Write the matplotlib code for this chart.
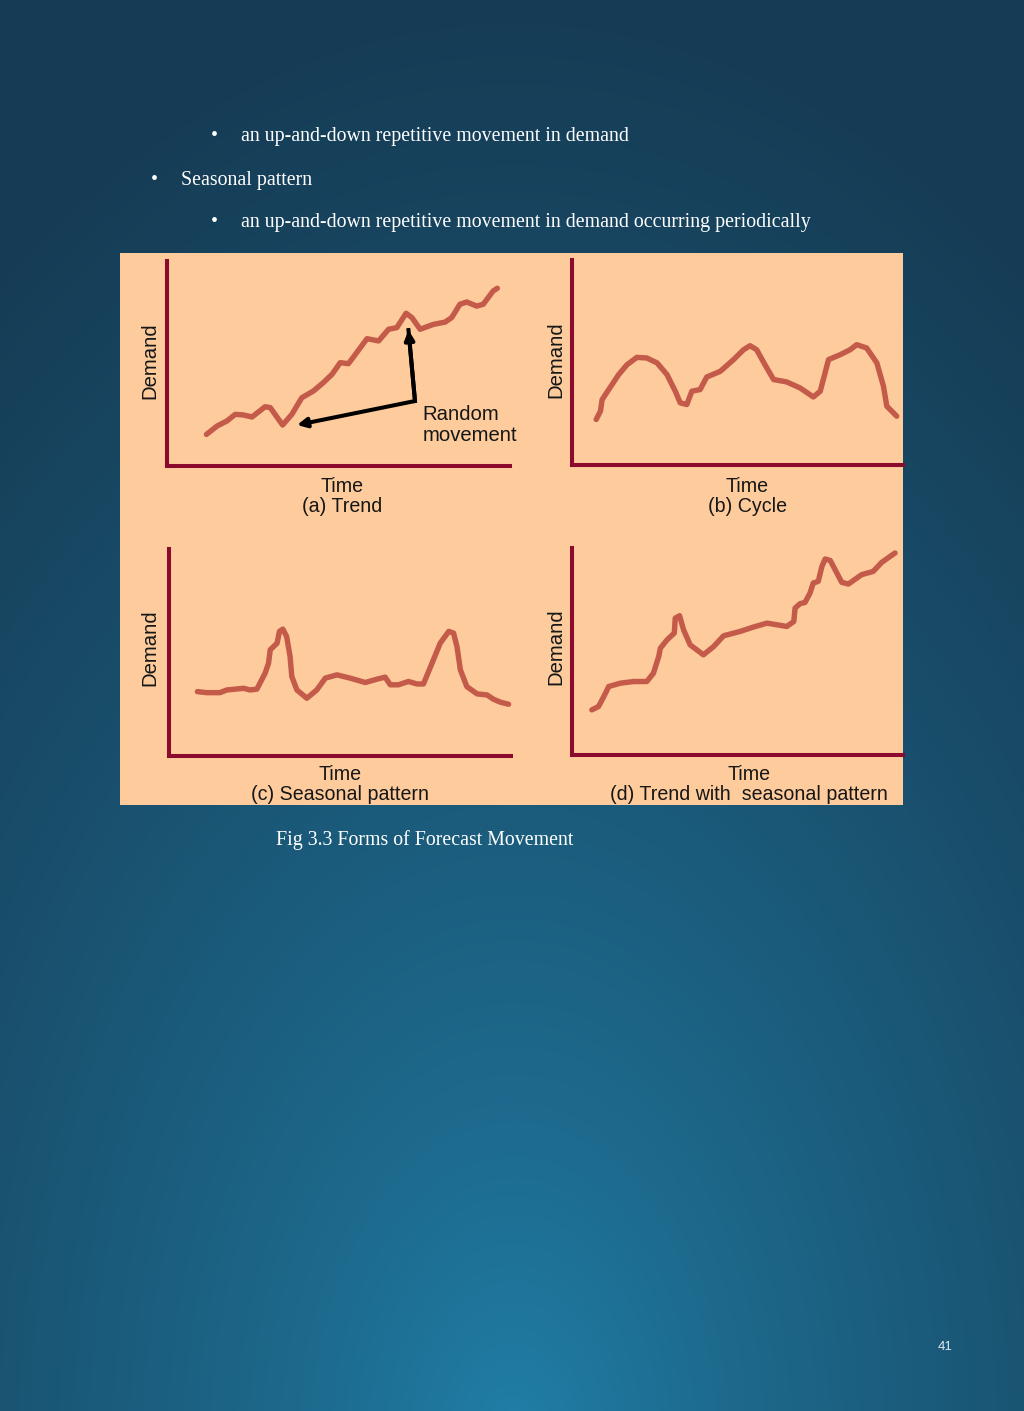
import numpy as np
import matplotlib
matplotlib.use("Agg")
from matplotlib import pyplot as plt

# curve points, (time, demand) on a 0-100 scale
trend_x = [11.5, 14.6, 17.5, 19.9, 22.3, 24.8, 28.6, 30.1, 33.7, 36.4, 39.3, 42.7, 45.6, 48.1,
           50.5, 52.9, 55.3, 58.3, 61.7, 64.6, 67.0, 69.7, 71.4, 73.8, 77.7, 81.1, 83.0, 85.4,
           87.4, 90.3, 92.2, 95.1, 96.3]
trend_y = [15.4, 19.5, 22.0, 25.2, 24.9, 23.9, 28.9, 28.5, 20.0, 25.2, 33.3, 36.6, 40.7, 44.7,
           50.4, 49.9, 55.3, 62.1, 61.0, 66.7, 67.5, 74.5, 72.4, 66.7, 69.1, 70.2, 72.4, 78.9,
           80.0, 78.0, 78.9, 85.4, 86.7]

cycle_x = [7.3, 8.6, 9.1, 11.1, 14.1, 16.6, 19.6, 22.6, 25.7, 28.7, 31.2, 32.7, 34.7, 36.2,
           38.7, 40.7, 44.8, 48.8, 51.8, 53.8, 55.8, 58.3, 60.9, 64.9, 68.9, 72.9, 75.0, 77.5,
           81.0, 84.0, 86.0, 89.0, 92.1, 94.1, 95.1, 98.1]
cycle_y = [22.2, 26.3, 31.9, 36.8, 44.1, 48.9, 52.5, 52.2, 49.8, 44.1, 36.0, 30.3, 29.5, 36.0,
           36.8, 42.9, 45.7, 51.4, 56.2, 58.2, 56.2, 48.9, 41.7, 40.5, 37.6, 33.2, 36.0, 51.4,
           53.8, 56.2, 58.7, 57.1, 49.8, 38.4, 28.7, 23.8]

season_x = [8.3, 11.0, 14.9, 16.9, 21.8, 23.7, 25.7, 28.1, 29.1, 29.6, 31.6, 32.3, 33.3, 34.4,
            35.4, 35.9, 37.4, 40.3, 43.2, 45.7, 49.1, 53.0, 57.4, 60.8, 63.2, 64.7, 67.1, 70.0,
            72.5, 74.4, 76.9, 79.3, 81.8, 83.2, 84.2, 85.2, 87.1, 90.1, 93.0, 94.9, 96.9, 99.3]
season_y = [31.1, 30.6, 30.6, 31.9, 32.7, 31.9, 32.3, 40.0, 44.8, 51.3, 54.5, 60.2, 61.3, 57.7,
            48.1, 38.4, 31.9, 27.9, 31.9, 37.6, 39.2, 37.6, 35.5, 37.1, 38.1, 34.4, 34.4, 36.0,
            34.8, 34.8, 44.8, 54.5, 60.2, 59.4, 52.9, 41.6, 33.5, 30.0, 29.5, 27.4, 26.0, 25.0]

tws_x = [6.0, 8.0, 9.6, 11.1, 14.6, 18.6, 22.6, 24.6, 26.2, 26.7, 28.7, 30.9, 31.2, 32.5, 33.7,
         35.7, 39.7, 42.8, 45.8, 50.8, 54.8, 58.9, 61.9, 64.9, 67.0, 67.4, 68.9, 70.4, 71.9,
         72.9, 74.4, 75.5, 76.5, 78.0, 79.5, 81.5, 83.5, 87.5, 91.0, 93.6, 97.6]
tws_y = [21.8, 23.4, 28.2, 33.1, 34.7, 35.5, 35.5, 39.5, 47.6, 51.6, 55.6, 58.9, 66.1, 67.3, 60.5,
         53.2, 48.4, 52.4, 57.6, 59.7, 61.8, 63.7, 62.9, 62.1, 64.5, 71.0, 73.1, 73.7, 78.2,
         83.1, 83.9, 91.1, 94.7, 94.0, 89.5, 83.4, 82.6, 87.1, 88.7, 93.1, 97.6]

# random movement arrow: left tip, corner, top tip
arrow_x = [37.9, 72.3, 70.4]
arrow_y = [20.0, 31.7, 66.3]

captions = ["(a) Trend", "(b) Cycle", "(c) Seasonal pattern", "(d) Trend with  seasonal pattern"]

W, H = 1024, 1411
fig = plt.figure(figsize=(W / 100, H / 100), dpi=100)

# page background: radial gradient, lighter at bottom centre
bg = fig.add_axes([0, 0, 1, 1])
bg.set_xlim(0, W)
bg.set_ylim(H, 0)
bg.axis("off")
yy, xx = np.mgrid[0:H:4, 0:W:4]
t = np.clip(np.sqrt(((xx - 512) / 900.0) ** 2 + ((yy - 1450) / 1450.0) ** 2), 0, 1) ** 0.75
c0 = np.array([0x21, 0x82, 0xAB]) / 255
c1 = np.array([0x16, 0x3C, 0x55]) / 255
img = c0 * (1 - t[..., None]) + c1 * t[..., None]
bg.imshow(img, extent=[0, W, H, 0], aspect="auto", interpolation="bilinear")

# peach figure panel
bg.add_patch(plt.Rectangle((120, 253), 783, 552, facecolor="#FDCB9C", edgecolor="none"))

serif = dict(family="Liberation Serif", color="white", fontsize=14.35, va="center")
bg.text(211, 137, "\u2022", **serif)
bg.text(241, 137, "an up-and-down repetitive movement in demand", **serif)
bg.text(151, 180, "\u2022", **serif)
bg.text(181, 180, "Seasonal pattern", **serif)
bg.text(211, 223, "\u2022", **serif)
bg.text(241, 223, "an up-and-down repetitive movement in demand occurring periodically", **serif)
bg.text(276, 840, "Fig 3.3 Forms of Forecast Movement", **serif)
bg.text(945, 1347, "41", family="Liberation Sans", color="#dce8ef", fontsize=9.5,
        ha="center", va="center")

sans = dict(family="Liberation Sans", color="#161616", fontsize=14.1, ha="center", va="center")

# (left, right, top, bottom) in pixels, label centres
panels = [
    ((167, 510, 261, 466), trend_x, trend_y, (342, 486, 507), (150, 361)),
    ((572, 903, 260, 465), cycle_x, cycle_y, (747, 486, 507), (556, 360)),
    ((169, 511, 549, 756), season_x, season_y, (340, 774, 795), (150, 648)),
    ((572, 903, 548, 755), tws_x, tws_y, (749, 774, 795), (556, 647)),
]

for i, (box, xs, ys, lab, dem) in enumerate(panels):
    l, r, tp, b = box
    ax = fig.add_axes([l / W, 1 - b / H, (r - l) / W, (b - tp) / H])
    ax.set_facecolor("none")
    ax.set_xlim(0, 100)
    ax.set_ylim(0, 100)
    ax.set_xticks([])
    ax.set_yticks([])
    for s in ["top", "right"]:
        ax.spines[s].set_visible(False)
    for s in ["left", "bottom"]:
        ax.spines[s].set_color("#8B0A2E")
        ax.spines[s].set_linewidth(2.9)
    ax.plot(xs, ys, color="#C45A4A", lw=3.9, solid_capstyle="round",
            solid_joinstyle="round", clip_on=False)

    bg.text(lab[0], lab[1], "Time", **sans)
    bg.text(lab[0], lab[2], captions[i], **sans)
    bg.text(dem[0], dem[1], "Demand", rotation=90, **dict(sans, fontsize=14.6))

    if i == 0:
        ax.plot(arrow_x[1:], arrow_y[1:], color="black", lw=2.9)
        ax.annotate("", xy=(arrow_x[0], arrow_y[0]), xytext=(arrow_x[1], arrow_y[1]),
                    arrowprops=dict(arrowstyle="-|>", color="black", lw=2.9,
                                    mutation_scale=14, shrinkA=0, shrinkB=0))
        ax.annotate("", xy=(arrow_x[2], arrow_y[2]), xytext=(arrow_x[1], arrow_y[1]),
                    arrowprops=dict(arrowstyle="-|>", color="black", lw=2.9,
                                    mutation_scale=14, shrinkA=0, shrinkB=0))
        ax.text(74.5, 30.0, "Random\nmovement", family="Liberation Sans", color="#161616",
                fontsize=14.6, ha="left", va="top", linespacing=1.15)

fig.savefig("out.png", dpi=100)
